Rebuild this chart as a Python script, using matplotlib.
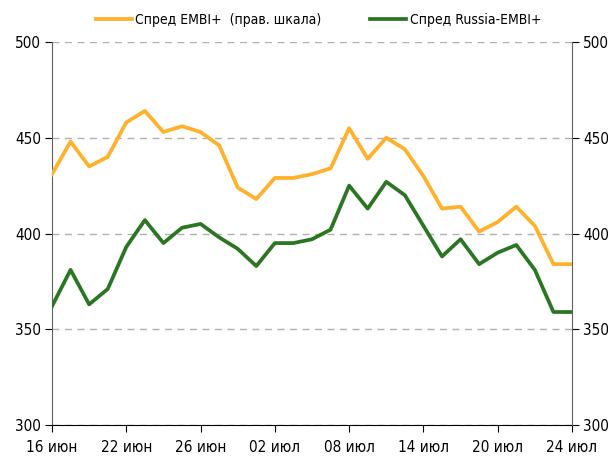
import matplotlib.pyplot as plt

plt.rcParams['font.family'] = ['Liberation Sans Narrow', 'DejaVu Sans']
plt.rcParams['font.stretch'] = 'condensed'

# business days 16 Jun - 24 Jul 2015
dates = ['16 июн', '17 июн', '18 июн', '19 июн', '22 июн', '23 июн', '24 июн', '25 июн',
         '26 июн', '29 июн', '30 июн', '01 июл', '02 июл', '03 июл', '06 июл', '07 июл',
         '08 июл', '09 июл', '10 июл', '13 июл', '14 июл', '15 июл', '16 июл', '17 июл',
         '20 июл', '21 июл', '22 июл', '23 июл', '24 июл']

embi = [431, 448, 435, 440, 458, 464, 453, 456, 453, 446, 424, 418, 429, 429, 431,
        434, 455, 439, 450, 444, 430, 413, 414, 401, 406, 414, 404, 384, 384]

russia_embi = [362, 381, 363, 371, 393, 407, 395, 403, 405, 398, 392, 383, 395, 395, 397,
               402, 425, 413, 427, 420, 404, 388, 397, 384, 390, 394, 381, 359, 359]

orange = '#FFB12B'
green = '#2B7623'

x = list(range(len(dates)))

fig = plt.figure(figsize=(6.08, 4.59), dpi=100)
ax = fig.add_axes([52 / 608, 1 - 425 / 459, 520 / 608, 383 / 459])
ax2 = ax.twinx()

ax.plot(x, russia_embi, color=green, linewidth=2.7, label='Спред Russia-EMBI+', zorder=3)
ax2.plot(x, embi, color=orange, linewidth=2.7, label='Спред EMBI+  (прав. шкала)', zorder=3)

for a in (ax, ax2):
    a.set_xlim(0, len(dates) - 1)
    a.set_ylim(300, 500)
    a.set_yticks([300, 350, 400, 450, 500])
    a.tick_params(axis='y', labelsize=11, length=5, width=0.8, colors='black', pad=3)
    a.spines['top'].set_visible(False)

ax.yaxis.grid(True, linestyle=(0, (5, 4)), color='#b0b0b0', linewidth=1.0)
ax.set_axisbelow(True)
ax.spines['left'].set_color('#606060')
ax2.spines['right'].set_color('#606060')
ax2.spines['left'].set_visible(False)
ax2.spines['bottom'].set_visible(False)
ax.spines['right'].set_visible(False)

ax.set_xticks(x[::4])
ax.set_xticklabels(dates[::4], fontsize=11)
ax.tick_params(axis='x', length=5, width=0.8, pad=6)

h1, l1 = ax2.get_legend_handles_labels()
h2, l2 = ax.get_legend_handles_labels()
fig.legend(h1 + h2, l1 + l2, loc='center', bbox_to_anchor=(0.524, 1 - 20 / 459), ncol=2,
           frameon=False, fontsize=10, handlelength=2.6, handletextpad=0.25, columnspacing=3.5)

fig.savefig('out.png', dpi=100)
